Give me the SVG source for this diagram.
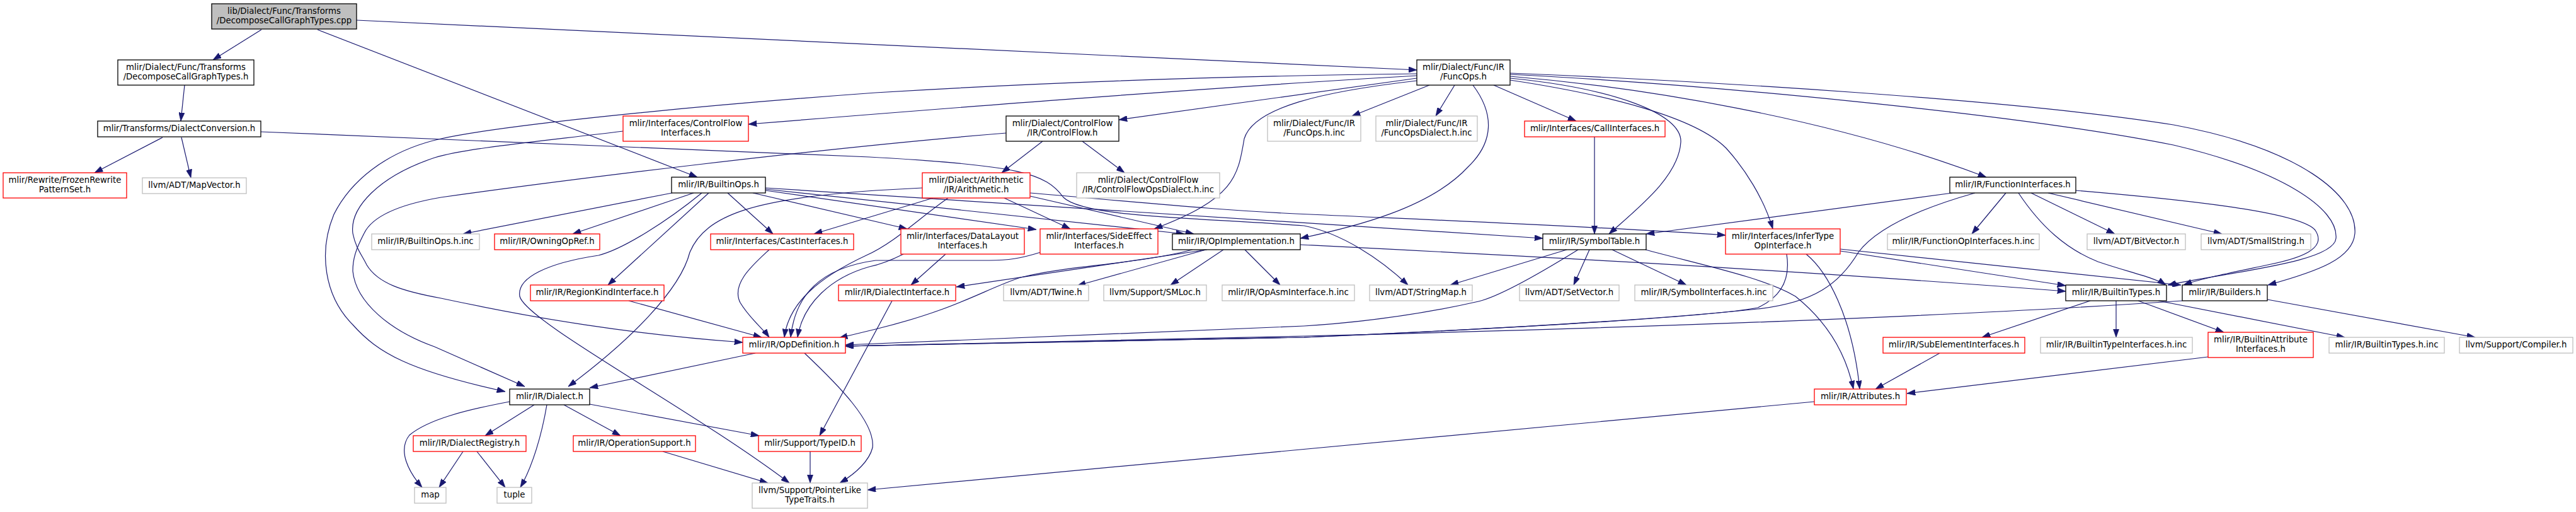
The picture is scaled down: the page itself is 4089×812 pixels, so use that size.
<svg xmlns="http://www.w3.org/2000/svg" width="4089" height="812" viewBox="0 0 4089 812">
<style>
rect{fill:#fff;stroke-width:1.3}
.b{stroke:#000}
.r{stroke:#f00}
.g{stroke:#bfbfbf}
.root{fill:#bfbfbf;stroke:#000}
text{font-family:"DejaVu Sans","Liberation Sans",sans-serif;font-size:13.3px;fill:#000;text-anchor:middle}
#edges path{fill:none;stroke:#191970;stroke-width:1.2;marker-end:url(#ah)}
</style>
<defs>
<marker id="ah" viewBox="0 0 10 7" refX="10" refY="3.5" markerWidth="13.3" markerHeight="9.3" markerUnits="userSpaceOnUse" orient="auto">
<path d="M0,0 L10,3.5 L0,7 z" fill="#191970" stroke="#191970" stroke-width="0.5"/>
</marker>
</defs>
<rect x="0" y="0" width="4089" height="812" style="fill:#fff;stroke:none"/>
<g id="edges">
<path d="M415,47 L338,95"/>
<path d="M566,32 L2249,111"/>
<path d="M504,47 L1107,281"/>
<path d="M293,135 L287,192"/>
<path d="M258,218 L150,274"/>
<path d="M288,218 L303,282"/>
<path d="M414,209 L1380,249 C1620,262 1660,275 1688,313 C1720,345 1900,345 2070,358 C2130,370 2190,410 2235,452"/>
<path d="M2249,124 C2100,145 1950,165 1776,190"/>
<path d="M2249,120 C1900,140 1500,172 1188,197"/>
<path d="M2249,117 C2000,120 1700,128 1390,147 C1100,168 800,198 700,220 C610,240 555,290 530,340 C505,400 515,470 560,515 C600,560 650,588 802,621"/>
<path d="M2338,135 C2372,180 2372,225 2330,265 C2270,330 2150,360 2064,378"/>
<path d="M2269,135 L2146,184"/>
<path d="M2309,135 L2279,184"/>
<path d="M2371,135 L2502,192"/>
<path d="M2397,124 C2560,140 2670,180 2668,225 C2665,280 2600,330 2554,371"/>
<path d="M2397,127 C2550,150 2690,185 2740,235 C2770,268 2800,315 2814,363"/>
<path d="M2397,121 C2600,138 2900,185 3153,281"/>
<path d="M2397,116 C2700,128 3200,158 3450,198 C3650,235 3742,310 3738,370 C3735,410 3680,430 3600,452"/>
<path d="M2397,118 C2700,133 3200,180 3450,230 C3620,270 3712,330 3708,378 C3705,415 3550,430 3441,452"/>
<path d="M2249,128 C2100,145 1990,170 1975,220 C1965,280 1960,315 1832,363"/>
<path d="M1655,224 L1590,274"/>
<path d="M1718,224 L1785,274"/>
<path d="M1597,211 C1300,235 900,285 700,313 C630,325 590,345 578,370 C565,395 560,410 560,430 C565,480 620,525 690,550 L833,613"/>
<path d="M989,208 C850,225 740,235 690,250 C600,280 555,330 560,370 C565,395 575,405 582,420 C600,450 640,462 700,473 C850,505 1000,530 1179,543"/>
<path d="M1464,298 L1390,302 C1200,315 1120,340 1095,400 C1080,460 1000,540 902,613"/>
<path d="M1481,314 L1292,371"/>
<path d="M1505,314 C1460,345 1420,385 1375,405 C1300,440 1252,480 1245,535"/>
<path d="M1594,314 L1699,363"/>
<path d="M1635,311 L1895,371"/>
<path d="M1635,306 C1800,320 1950,335 2080,340 C2300,350 2550,360 2739,373"/>
<path d="M1067,306 L735,371"/>
<path d="M1101,306 L909,371"/>
<path d="M1114,306 C1060,350 990,395 950,405 C870,417 820,440 825,470 C835,510 1100,650 1253,766"/>
<path d="M1125,306 L965,452"/>
<path d="M1155,306 L1227,371"/>
<path d="M1215,298 C1600,325 2000,350 2449,378"/>
<path d="M1215,302 L1645,364"/>
<path d="M1195,306 L1440,363"/>
<path d="M1215,300 L1880,371"/>
<path d="M1501,403 L1446,452"/>
<path d="M1434,403 C1410,415 1395,420 1380,423 C1320,440 1275,480 1266,535"/>
<path d="M1652,400 C1620,410 1600,413 1570,413 L1390,413 C1300,425 1262,470 1255,535"/>
<path d="M1221,396 C1195,420 1160,450 1175,480 C1190,505 1210,520 1221,535"/>
<path d="M998,477 L1209,535"/>
<path d="M1893,396 C1800,420 1700,420 1620,440 C1560,460 1520,490 1390,522 L1332,536"/>
<path d="M1916,396 L1518,455"/>
<path d="M1914,396 L1710,453"/>
<path d="M1942,396 L1858,452"/>
<path d="M1976,396 L2032,452"/>
<path d="M2064,388 C2400,405 2800,425 3279,462"/>
<path d="M1416,477 L1301,691"/>
<path d="M2487,396 L2302,452"/>
<path d="M2505,396 C2450,430 2380,470 2347,478 C2250,500 2150,512 2070,517 L1342,547"/>
<path d="M2523,396 L2498,452"/>
<path d="M2559,396 L2677,452"/>
<path d="M2612,396 C2700,420 2800,440 2850,470 C2900,510 2930,560 2942,617"/>
<path d="M2531,217 L2531,371"/>
<path d="M2836,403 C2842,440 2830,470 2790,488 C2700,505 2300,525 2070,535 L1342,549"/>
<path d="M2867,403 C2900,430 2940,500 2952,617"/>
<path d="M2921,398 L3279,453"/>
<path d="M2921,395 L3462,452"/>
<path d="M3099,306 L2613,371"/>
<path d="M3135,306 C3050,330 2980,360 2950,400 C2920,450 2880,480 2790,490 C2600,510 2300,525 2070,535 L1342,549"/>
<path d="M3184,306 L3130,371"/>
<path d="M3224,306 L3357,371"/>
<path d="M3251,306 L3527,371"/>
<path d="M3204,306 C3240,360 3280,395 3330,415 C3380,432 3420,440 3438,452"/>
<path d="M3295,302 C3450,315 3650,335 3675,365 C3695,395 3650,410 3600,420 C3530,435 3490,443 3466,452"/>
<path d="M3464,477 C3200,495 2800,515 2070,533 L1342,549"/>
<path d="M3599,475 L3929,535"/>
<path d="M3318,477 L3146,535"/>
<path d="M3359,477 L3359,535"/>
<path d="M3394,477 L3530,527"/>
<path d="M3426,477 L3722,535"/>
<path d="M3079,560 L2977,617"/>
<path d="M3505,566 L3027,624"/>
<path d="M2880,637 L1377,777"/>
<path d="M1199,560 L936,615"/>
<path d="M1277,560 C1330,610 1390,670 1385,710 C1380,730 1360,750 1333,766"/>
<path d="M848,642 L770,691"/>
<path d="M868,642 C860,690 845,740 826,773"/>
<path d="M809,637 C740,650 680,665 650,690 C630,715 650,750 670,773"/>
<path d="M895,642 L985,691"/>
<path d="M936,641 L1205,691"/>
<path d="M735,716 L697,773"/>
<path d="M757,716 L802,773"/>
<path d="M1052,716 L1219,766"/>
<path d="M1286,716 L1286,766"/>
</g>
<g id="n1"><rect class="root" x="336" y="6" width="230" height="40"/><text x="451" y="22">lib/Dialect/Func/Transforms</text><text x="451" y="37">/DecomposeCallGraphTypes.cpp</text></g>
<g id="n2"><rect class="b" x="187" y="95" width="216" height="40"/><text x="295" y="111">mlir/Dialect/Func/Transforms</text><text x="295" y="126">/DecomposeCallGraphTypes.h</text></g>
<g id="n3"><rect class="b" x="155" y="192" width="259" height="25"/><text x="284.5" y="208">mlir/Transforms/DialectConversion.h</text></g>
<g id="n4"><rect class="r" x="5" y="274" width="196" height="40"/><text x="103" y="290">mlir/Rewrite/FrozenRewrite</text><text x="103" y="305">PatternSet.h</text></g>
<g id="n5"><rect class="g" x="226" y="282" width="165" height="25"/><text x="308.5" y="298">llvm/ADT/MapVector.h</text></g>
<g id="n6"><rect class="b" x="1066" y="281" width="149" height="25"/><text x="1140.5" y="297">mlir/IR/BuiltinOps.h</text></g>
<g id="n7"><rect class="r" x="989" y="184" width="199" height="40"/><text x="1088.5" y="200">mlir/Interfaces/ControlFlow</text><text x="1088.5" y="215">Interfaces.h</text></g>
<g id="n8"><rect class="g" x="590" y="371" width="171" height="25"/><text x="675.5" y="387">mlir/IR/BuiltinOps.h.inc</text></g>
<g id="n9"><rect class="r" x="785" y="371" width="167" height="25"/><text x="868.5" y="387">mlir/IR/OwningOpRef.h</text></g>
<g id="n10"><rect class="r" x="1128" y="371" width="227" height="25"/><text x="1241.5" y="387">mlir/Interfaces/CastInterfaces.h</text></g>
<g id="n11"><rect class="r" x="842" y="452" width="212" height="25"/><text x="948" y="468">mlir/IR/RegionKindInterface.h</text></g>
<g id="n12"><rect class="r" x="1179" y="535" width="163" height="25"/><text x="1260.5" y="551">mlir/IR/OpDefinition.h</text></g>
<g id="n13"><rect class="b" x="809" y="617" width="127" height="25"/><text x="872.5" y="633">mlir/IR/Dialect.h</text></g>
<g id="n14"><rect class="r" x="656" y="691" width="179" height="25"/><text x="745.5" y="707">mlir/IR/DialectRegistry.h</text></g>
<g id="n15"><rect class="g" x="658" y="773" width="50" height="25"/><text x="683" y="789">map</text></g>
<g id="n16"><rect class="g" x="789" y="773" width="55" height="25"/><text x="816.5" y="789">tuple</text></g>
<g id="n17"><rect class="r" x="910" y="691" width="194" height="25"/><text x="1007" y="707">mlir/IR/OperationSupport.h</text></g>
<g id="n18"><rect class="r" x="1204" y="691" width="163" height="25"/><text x="1285.5" y="707">mlir/Support/TypeID.h</text></g>
<g id="n19"><rect class="g" x="1194" y="766" width="183" height="40"/><text x="1285.5" y="782">llvm/Support/PointerLike</text><text x="1285.5" y="797">TypeTraits.h</text></g>
<g id="n20"><rect class="b" x="1597" y="184" width="179" height="40"/><text x="1686.5" y="200">mlir/Dialect/ControlFlow</text><text x="1686.5" y="215">/IR/ControlFlow.h</text></g>
<g id="n21"><rect class="r" x="1464" y="274" width="171" height="40"/><text x="1549.5" y="290">mlir/Dialect/Arithmetic</text><text x="1549.5" y="305">/IR/Arithmetic.h</text></g>
<g id="n22"><rect class="g" x="1709" y="274" width="227" height="40"/><text x="1822.5" y="290">mlir/Dialect/ControlFlow</text><text x="1822.5" y="305">/IR/ControlFlowOpsDialect.h.inc</text></g>
<g id="n23"><rect class="r" x="1430" y="363" width="196" height="40"/><text x="1528" y="379">mlir/Interfaces/DataLayout</text><text x="1528" y="394">Interfaces.h</text></g>
<g id="n24"><rect class="r" x="1651" y="363" width="187" height="40"/><text x="1744.5" y="379">mlir/Interfaces/SideEffect</text><text x="1744.5" y="394">Interfaces.h</text></g>
<g id="n25"><rect class="b" x="1861" y="371" width="203" height="25"/><text x="1962.5" y="387">mlir/IR/OpImplementation.h</text></g>
<g id="n26"><rect class="r" x="1331" y="452" width="186" height="25"/><text x="1424" y="468">mlir/IR/DialectInterface.h</text></g>
<g id="n27"><rect class="g" x="1593" y="452" width="135" height="25"/><text x="1660.5" y="468">llvm/ADT/Twine.h</text></g>
<g id="n28"><rect class="g" x="1752" y="452" width="163" height="25"/><text x="1833.5" y="468">llvm/Support/SMLoc.h</text></g>
<g id="n29"><rect class="g" x="1940" y="452" width="210" height="25"/><text x="2045" y="468">mlir/IR/OpAsmInterface.h.inc</text></g>
<g id="n30"><rect class="g" x="2174" y="452" width="163" height="25"/><text x="2255.5" y="468">llvm/ADT/StringMap.h</text></g>
<g id="n31"><rect class="g" x="2412" y="452" width="158" height="25"/><text x="2491" y="468">llvm/ADT/SetVector.h</text></g>
<g id="n32"><rect class="g" x="2595" y="452" width="219" height="25"/><text x="2704.5" y="468">mlir/IR/SymbolInterfaces.h.inc</text></g>
<g id="n33"><rect class="b" x="2249" y="95" width="148" height="40"/><text x="2323" y="111">mlir/Dialect/Func/IR</text><text x="2323" y="126">/FuncOps.h</text></g>
<g id="n34"><rect class="g" x="2012" y="184" width="148" height="40"/><text x="2086" y="200">mlir/Dialect/Func/IR</text><text x="2086" y="215">/FuncOps.h.inc</text></g>
<g id="n35"><rect class="g" x="2184" y="184" width="161" height="40"/><text x="2264.5" y="200">mlir/Dialect/Func/IR</text><text x="2264.5" y="215">/FuncOpsDialect.h.inc</text></g>
<g id="n36"><rect class="r" x="2420" y="192" width="223" height="25"/><text x="2531.5" y="208">mlir/Interfaces/CallInterfaces.h</text></g>
<g id="n37"><rect class="b" x="2449" y="371" width="164" height="25"/><text x="2531" y="387">mlir/IR/SymbolTable.h</text></g>
<g id="n38"><rect class="r" x="2739" y="363" width="182" height="40"/><text x="2830" y="379">mlir/Interfaces/InferType</text><text x="2830" y="394">OpInterface.h</text></g>
<g id="n39"><rect class="b" x="3095" y="281" width="200" height="25"/><text x="3195" y="297">mlir/IR/FunctionInterfaces.h</text></g>
<g id="n40"><rect class="g" x="2996" y="371" width="241" height="25"/><text x="3116.5" y="387">mlir/IR/FunctionOpInterfaces.h.inc</text></g>
<g id="n41"><rect class="g" x="3313" y="371" width="156" height="25"/><text x="3391" y="387">llvm/ADT/BitVector.h</text></g>
<g id="n42"><rect class="g" x="3494" y="371" width="174" height="25"/><text x="3581" y="387">llvm/ADT/SmallString.h</text></g>
<g id="n43"><rect class="b" x="3279" y="452" width="160" height="25"/><text x="3359" y="468">mlir/IR/BuiltinTypes.h</text></g>
<g id="n44"><rect class="b" x="3464" y="452" width="135" height="25"/><text x="3531.5" y="468">mlir/IR/Builders.h</text></g>
<g id="n45"><rect class="r" x="2989" y="535" width="225" height="25"/><text x="3101.5" y="551">mlir/IR/SubElementInterfaces.h</text></g>
<g id="n46"><rect class="g" x="3239" y="535" width="241" height="25"/><text x="3359.5" y="551">mlir/IR/BuiltinTypeInterfaces.h.inc</text></g>
<g id="n47"><rect class="r" x="3505" y="527" width="167" height="40"/><text x="3588.5" y="543">mlir/IR/BuiltinAttribute</text><text x="3588.5" y="558">Interfaces.h</text></g>
<g id="n48"><rect class="g" x="3697" y="535" width="183" height="25"/><text x="3788.5" y="551">mlir/IR/BuiltinTypes.h.inc</text></g>
<g id="n49"><rect class="g" x="3904" y="535" width="180" height="25"/><text x="3994" y="551">llvm/Support/Compiler.h</text></g>
<g id="n50"><rect class="r" x="2880" y="617" width="146" height="25"/><text x="2953" y="633">mlir/IR/Attributes.h</text></g>
</svg>
